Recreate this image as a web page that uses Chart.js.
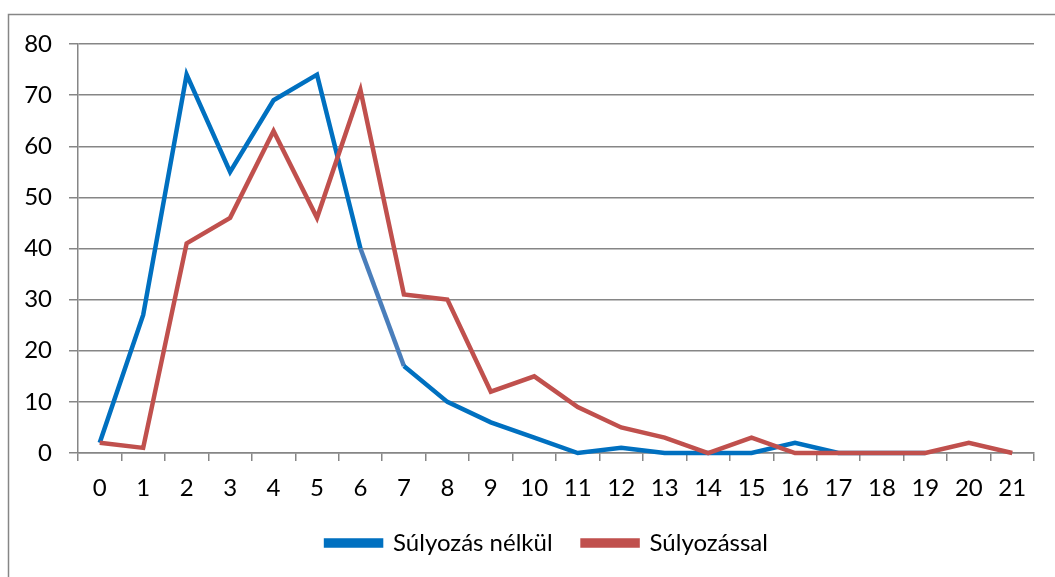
<!DOCTYPE html>
<html>
<head>
<meta charset="utf-8">
<script src="https://cdn.jsdelivr.net/npm/chart.js@4/dist/chart.umd.min.js"></script>
<style>
  html, body { margin: 0; padding: 0; background: #fff; }
  #wrap { width: 1055px; height: 577px; position: relative; }
</style>
</head>
<body>
<div id="wrap"><canvas id="chart" width="1055" height="577"></canvas></div>
<script>
const categories = ["0", "1", "2", "3", "4", "5", "6", "7", "8", "9", "10",
  "11", "12", "13", "14", "15", "16", "17", "18", "19", "20", "21"];
const seriesNames = ["Súlyozás nélkül", "Súlyozással"];
// values; the first series stops after 19
const noWeighting = [2, 27, 74, 55, 69, 74, 40, 17, 10, 6, 3, 0, 1, 0, 0, 0, 2, 0, 0, 0, null, null];
const withWeighting = [2, 1, 41, 46, 63, 46, 71, 31, 30, 12, 15, 9, 5, 3, 0, 3, 0, 0, 0, 0, 2, 0];
const yTicks = [0, 10, 20, 30, 40, 50, 60, 70, 80];

const gridGray = "#868686";
const fontFamily = "Lato, 'Open Sans', sans-serif";

// outer frame of the chart object
const framePlugin = {
  id: "frame",
  beforeDraw: (chart) => {
    const ctx = chart.ctx;
    ctx.save();
    ctx.strokeStyle = gridGray;
    ctx.lineWidth = 1.5;
    ctx.strokeRect(8.5, 14.5, 1200, 700);
    ctx.restore();
  },
};

// the legend row sits a bit right of centre in the original
const legendShift = {
  id: "legendShift",
  afterLayout: (chart) => {
    chart.legend.left += 30;
    chart.legend.right += 30;
  },
};

const ctx = document.getElementById("chart").getContext("2d");
const chart = new Chart(ctx, {
  type: "line",
  data: {
    labels: categories,
    datasets: [
      {
        label: seriesNames[0],
        data: noWeighting,
        borderColor: "#0070c0",
        backgroundColor: "#0070c0",
        borderWidth: 4.5,
        pointRadius: 0,
        clip: false,
        order: 5,
        // one segment is drawn lighter in the original
        segment: {
          borderColor: (c) => (c.p0DataIndex === 6 ? "#4a7ebb" : undefined),
        },
      },
      {
        label: seriesNames[1],
        data: withWeighting,
        borderColor: "#c0504d",
        backgroundColor: "#c0504d",
        borderWidth: 4.5,
        pointRadius: 0,
        clip: false,
        order: 1,
      },
    ],
  },
  options: {
    responsive: false,
    animation: false,
    layout: { padding: { left: 0, top: 44, right: 21, bottom: 12 } },
    plugins: {
      tooltip: { enabled: false },
      legend: {
        position: "bottom",
        labels: {
          boxWidth: 55,
          boxHeight: 5,
          padding: 30,
          color: "#000",
          font: { family: fontFamily, size: 24 },
          sort: (a, b) => a.datasetIndex - b.datasetIndex,
        },
      },
    },
    scales: {
      x: {
        offset: true,
        grid: {
          offset: true,
          drawOnChartArea: false,
          drawTicks: true,
          tickLength: 8,
          color: gridGray,
          lineWidth: 1.5,
        },
        border: { color: gridGray, width: 1.5 },
        ticks: {
          color: "#000",
          padding: 13,
          maxRotation: 0,
          autoSkip: false,
          font: { family: fontFamily, size: 24 },
        },
        afterFit: (scale) => {
          scale.height = 48;
        },
      },
      y: {
        min: 0,
        max: 80,
        afterBuildTicks: (scale) => {
          scale.ticks = yTicks.map((v) => ({ value: v }));
        },
        grid: {
          color: gridGray,
          lineWidth: 1.5,
          tickLength: 9,
        },
        border: { color: gridGray, width: 1.5 },
        ticks: {
          color: "#000",
          padding: 17,
          font: { family: fontFamily, size: 24 },
        },
        afterFit: (scale) => {
          scale.width = 78;
        },
      },
    },
  },
  plugins: [framePlugin, legendShift],
});
</script>
</body>
</html>
